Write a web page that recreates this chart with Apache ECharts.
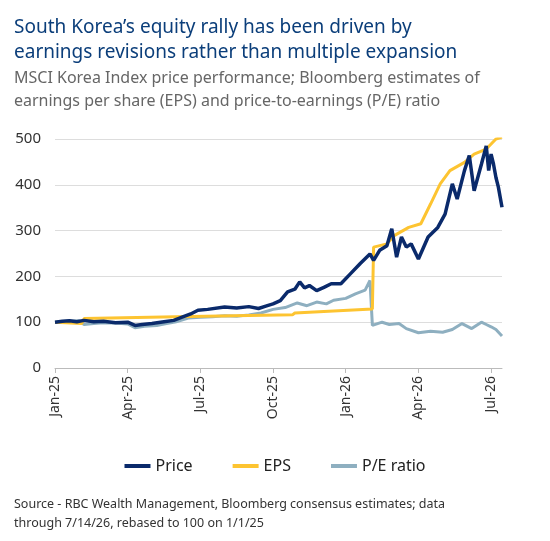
<!DOCTYPE html>
<html><head><meta charset="utf-8">
<script src="https://cdn.jsdelivr.net/npm/echarts@6/dist/echarts.min.js"></script>
<style>body{margin:0}#c{width:550px;height:541px}</style></head>
<body><div id="c"></div>
<script>
// x values: months since 1 Jan 2025
const priceX = [0,0.3,0.6,0.9,1.2,1.6,2,2.5,3,3.3,3.6,4,4.5,4.9,5.3,5.6,5.9,6.3,7,7.5,8,8.4,8.7,9,9.3,9.6,9.9,10.1,10.3,10.5,10.8,11.1,11.4,11.8,12.2,12.6,13.0,13.15,13.4,13.7,13.9,14.1,14.3,14.5,14.7,15.0,15.2,15.4,15.8,16.1,16.4,16.6,16.9,17.1,17.3,17.6,17.8,17.9,18.0,18.1,18.2,18.3,18.45];
const priceY = [100,102,103,101,104,101,102,99,100,93,95,97,101,104,112,118,126,128,133,131,134,130,135,140,147,166,172,188,175,180,169,176,184,184,206,228,249,235,257,267,304,242,286,264,271,238,262,286,307,336,402,369,431,464,387,445,485,431,467,445,416,395,351];
const epsX = [0,1.1,1.2,5,9.8,9.9,13.1,13.15,13.7,14.0,14.6,15.1,15.5,15.9,16.3,16.9,17.3,17.8,18.2,18.45];
const epsY = [100,97,108,112,116,120,129,264,271,289,307,315,358,402,431,449,467,478,500,504];
const peX = [0,0.5,1,1.2,1.6,2,2.5,3,3.3,3.7,4.2,4.5,5,5.5,6,6.5,7,7.5,8,8.5,9,9.5,10,10.4,10.8,11.2,11.5,12,12.4,12.8,13.0,13.1,13.5,13.8,14.2,14.5,15,15.5,16,16.4,16.8,17.2,17.6,17.8,18.0,18.2,18.45];
const peY = [100,102,103,95,97,99,98,96,88,91,93,96,101,109,111,112,114,113,116,120,128,132,142,136,144,140,148,152,162,170,191,93,100,95,97,86,77,80,78,84,97,86,100,95,90,84,70];
const tickLabels = {0:'Jan-25',3:'Apr-25',6:'Jul-25',9:'Oct-25',12:'Jan-26',15:'Apr-26',18:'Jul-26'};
const zip=(a,b)=>a.map((v,i)=>[v,b[i]]);
const F='Noto Sans';
const c=echarts.init(document.getElementById('c'));
c.setOption({
 title:[
  {text:'South Korea\u2019s equity rally has been driven by\nearnings revisions rather than multiple expansion',left:9,top:10,textStyle:{fontFamily:F,fontSize:19,fontWeight:'normal',color:'#0b3e7a',lineHeight:25}},
  {text:'MSCI Korea Index price performance; Bloomberg estimates of\nearnings per share (EPS) and price-to-earnings (P/E) ratio',left:9,top:62,textStyle:{fontFamily:F,fontSize:16,fontWeight:'normal',color:'#666',lineHeight:23}},
  {text:'Source - RBC Wealth Management, Bloomberg consensus estimates; data\nthrough 7/14/26, rebased to 100 on 1/1/25',left:9,top:490,textStyle:{fontFamily:F,fontSize:12.5,fontWeight:'normal',color:'#333',lineHeight:19}}
 ],
 legend:{bottom:62,left:'center',itemWidth:26,itemHeight:4,itemGap:40,icon:'rect',textStyle:{fontFamily:F,fontSize:16,color:'#222'},data:['Price','EPS','P/E ratio']},
 grid:{left:55,right:48,top:139,bottom:173},
 xAxis:{type:'value',min:0,max:18.45,interval:3,axisLine:{lineStyle:{color:'#bbb'}},axisTick:{show:true,lineStyle:{color:'#bbb'}},splitLine:{show:false},
  axisLabel:{rotate:90,fontFamily:F,fontSize:14,color:'#333',showMaxLabel:false,formatter:v=>tickLabels[Math.round(v)]||''}},
 yAxis:{type:'value',min:0,max:500,interval:100,axisLabel:{fontFamily:F,fontSize:15,color:'#333',margin:14},splitLine:{lineStyle:{color:'#ddd'}},axisLine:{show:false},axisTick:{show:false}},
 series:[
  {name:'Price',type:'line',data:zip(priceX,priceY),symbol:'none',lineStyle:{width:3.5,color:'#0a2a6b'},itemStyle:{color:'#0a2a6b'},z:3},
  {name:'EPS',type:'line',data:zip(epsX,epsY),symbol:'none',lineStyle:{width:3,color:'#fdc431'},itemStyle:{color:'#fdc431'},z:2},
  {name:'P/E ratio',type:'line',data:zip(peX,peY),symbol:'none',lineStyle:{width:3,color:'#8eafc0'},itemStyle:{color:'#8eafc0'},z:1}
 ]
});
</script></body></html>
